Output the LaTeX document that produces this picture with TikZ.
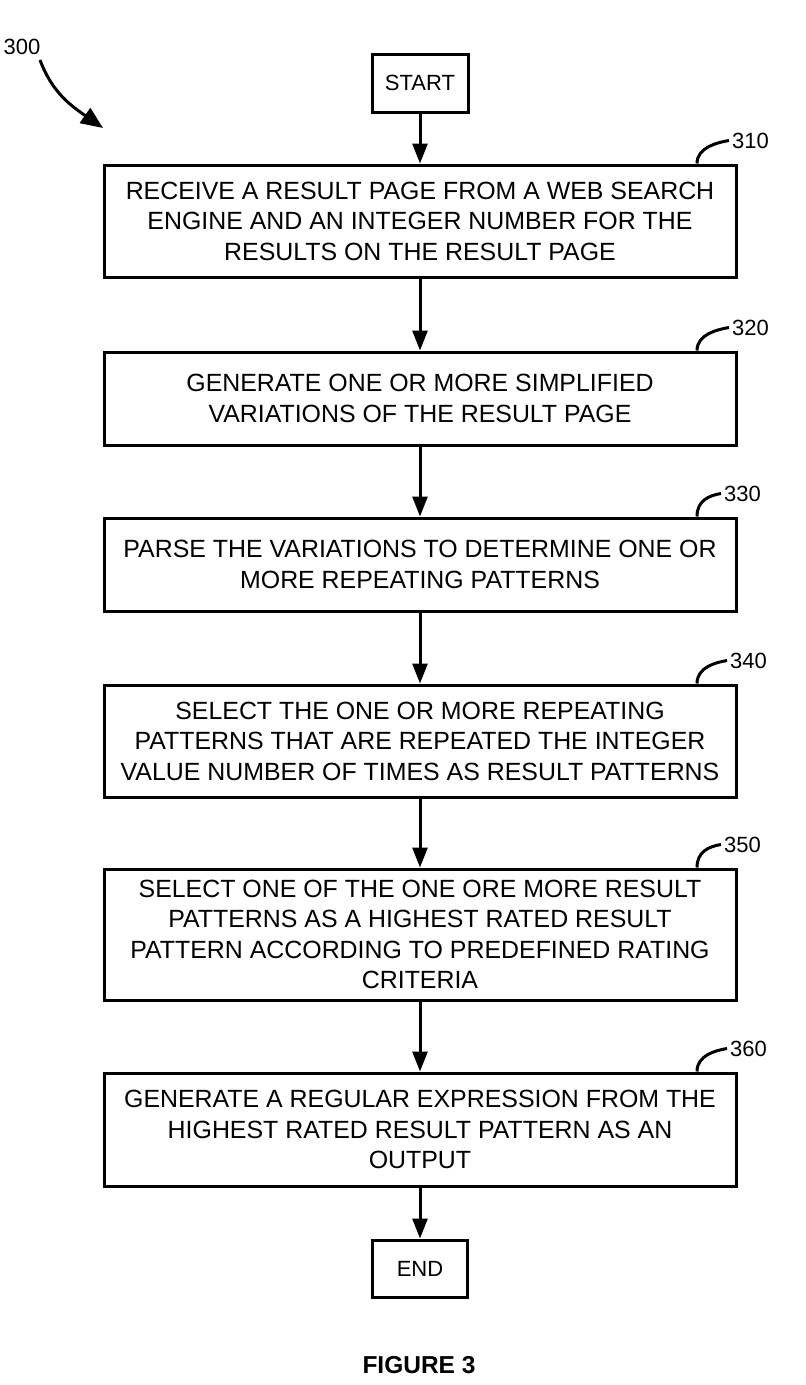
\documentclass[tikz,border=0pt]{standalone}
\usepackage{fontspec}
\setmainfont{Liberation Sans}
\usetikzlibrary{arrows.meta}
\begin{document}
\begin{tikzpicture}[x=1pt,y=-1pt,
  stepbox/.style={draw, line width=3pt, minimum width=632pt, align=center, inner sep=0pt,
    font=\fontsize{24.9}{30.5}\selectfont},
  termbox/.style={draw, line width=3pt, align=center, inner sep=0pt,
    font=\fontsize{22}{26}\selectfont},
  flow/.style={line width=3pt, -{Triangle[length=20pt,width=15pt]}},
  hook/.style={line width=3pt},
  reflabel/.style={anchor=west, inner sep=0pt, font=\fontsize{22}{26}\selectfont}
]
\useasboundingbox (0,0) rectangle (806,1385);

\node[termbox, minimum width=96pt, minimum height=58pt] (start) at (420,83) {START};
\node[stepbox, minimum height=112pt] (s310) at (420,221) {RECEIVE A RESULT PAGE FROM A WEB SEARCH\\ENGINE AND AN INTEGER NUMBER FOR THE\\RESULTS ON THE RESULT PAGE};
\node[stepbox, minimum height=93pt] (s320) at (420,398.5) {GENERATE ONE OR MORE SIMPLIFIED\\VARIATIONS OF THE RESULT PAGE};
\node[stepbox, minimum height=93pt] (s330) at (420,564.5) {PARSE THE VARIATIONS TO DETERMINE ONE OR\\MORE REPEATING PATTERNS};
\node[stepbox, minimum height=112pt] (s340) at (420,741) {SELECT THE ONE OR MORE REPEATING\\PATTERNS THAT ARE REPEATED THE INTEGER\\VALUE NUMBER OF TIMES AS RESULT PATTERNS};
\node[stepbox, minimum height=131pt] (s350) at (420,934.5) {SELECT ONE OF THE ONE ORE MORE RESULT\\PATTERNS AS A HIGHEST RATED RESULT\\PATTERN ACCORDING TO PREDEFINED RATING\\CRITERIA};
\node[stepbox, minimum height=113pt] (s360) at (420,1129.5) {GENERATE A REGULAR EXPRESSION FROM THE\\HIGHEST RATED RESULT PATTERN AS AN\\OUTPUT};
\node[termbox, minimum width=95pt, minimum height=57pt] (end) at (420,1268.5) {END};

\draw[flow] (start) -- (s310);
\draw[flow] (s310) -- (s320);
\draw[flow] (s320) -- (s330);
\draw[flow] (s330) -- (s340);
\draw[flow] (s340) -- (s350);
\draw[flow] (s350) -- (s360);
\draw[flow] (s360) -- (end);

\foreach \n/\t/\dx in {s310/310/8, s320/320/8, s330/330/0, s340/340/6, s350/350/0, s360/360/6} {
  \coordinate (h\n) at ([xshift=277pt]\n.north);
  \draw[hook] (h\n) .. controls +(0,-16) and +(-12,2) .. ++(\dx+24,-23) coordinate (k\n);
  \node[reflabel] (l\n) at ([xshift=3pt]k\n) {\t};
}

\node[inner sep=0pt, font=\fontsize{22}{26}\selectfont] (l300) at (22,47) {300};
\coordinate (a300) at (103,128);
\draw[line width=3pt, -{Triangle[length=22pt,width=18pt]}] (40,60) .. controls (52,92) and (70,105) .. (a300);

\node[font=\bfseries\fontsize{24.5}{28}\selectfont] (fig) at (419,1365) {FIGURE 3};
\end{tikzpicture}
\end{document}
